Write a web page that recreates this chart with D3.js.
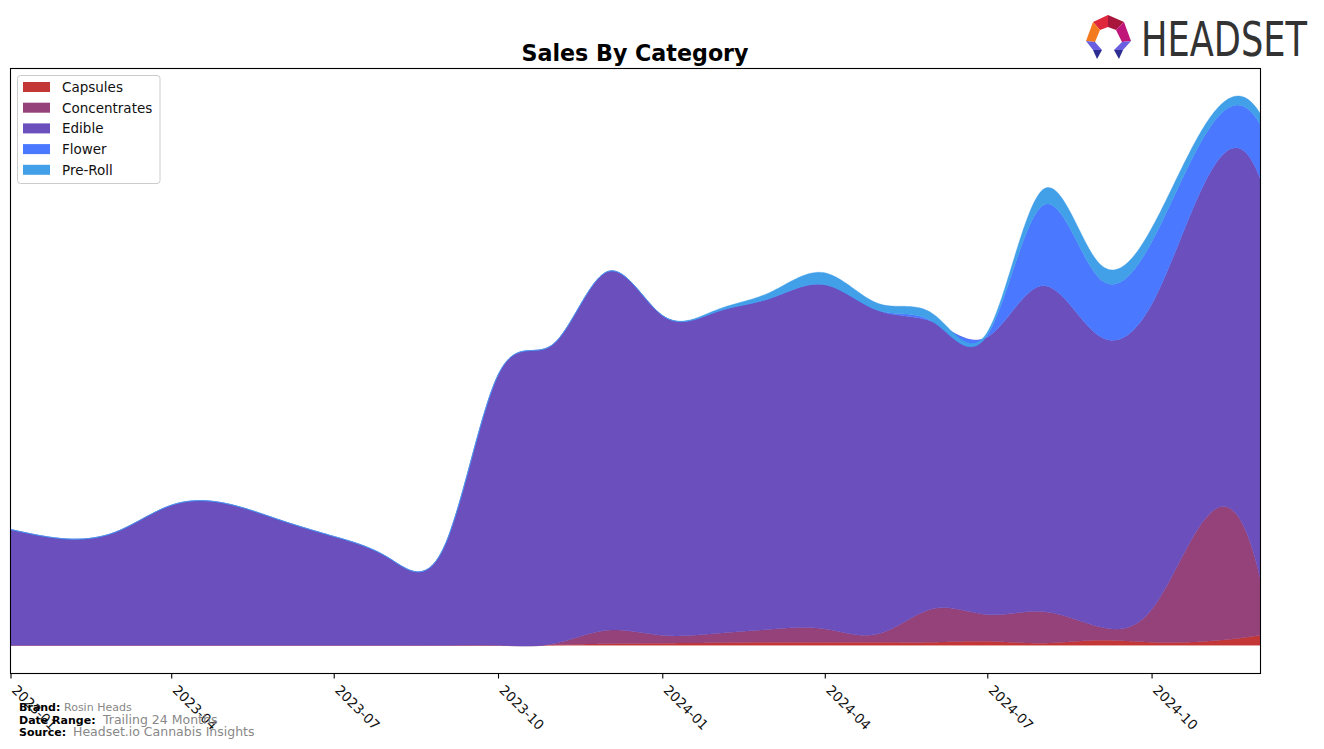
<!DOCTYPE html>
<html>
<head>
<meta charset="utf-8">
<script src="https://cdn.jsdelivr.net/npm/d3@7/dist/d3.min.js"></script>
<style>
  html, body { margin: 0; padding: 0; background: #fff; }
  svg { display: block; font-family: "DejaVu Sans", sans-serif; }
</style>
</head>
<body>
<svg id="chart" width="1324" height="749"></svg>
<script>
// ---------------- data ----------------
const months = ["2023-01","2023-02","2023-03","2023-04","2023-05","2023-06","2023-07","2023-08","2023-09","2023-10","2023-11","2023-12",
                "2024-01","2024-02","2024-03","2024-04","2024-05","2024-06","2024-07","2024-08","2024-09","2024-10","2024-11","2024-12"];
const categories = ["Capsules","Concentrates","Edible","Flower","Pre-Roll"];
const capsules     = [0,0,0,0,0,0,0,0,0,0,50,150, 200,250,300,300,300,300,400,200,500,300,400,1000];
const concentrates = [0,0,0,0,0,0,0,0,0,0,100,1350, 800,950,1300,1350,850,3400,2700,3200,1400,3300,12600,5600];
const edible       = [11700,10750,11450,14150,14350,12650,11000,8800,10000,27300,30300,36250,
                      32350,32550,33450,34800,32700,28950,28050,32950,29450,30850,34200,40500];
const flower       = [0,0,0,0,0,0,0,0,0,0,0,0, 0,0,0,0,0,0,200,8100,5900,6300,4700,5500];
const preroll      = [0,0,0,0,0,0,0,0,0,0,0,0, 0,200,600,1200,700,800,300,1600,1500,1400,1000,1100];
const tickLabels   = ["2023-01","2023-04","2023-07","2023-10","2024-01","2024-04","2024-07","2024-10"];
const colors = ["#c43737","#96427a","#6a4fbd","#4a78ff","#41a0e8"];

// ---------------- layout ----------------
const plot = {left: 10.5, right: 1260.5, top: 68.5, bottom: 673.5};
const svg = d3.select("#chart");

const parse = d3.timeParse("%Y-%m");
const dates = months.map(parse);
const xs = dates.map(d => d.getTime() / 86400000);

// not-a-knot cubic spline
function spline(x, y) {
  const n = x.length, h = [];
  for (let i = 0; i < n - 1; i++) h.push(x[i+1] - x[i]);
  const A = Array.from({length: n}, () => new Array(n).fill(0));
  const b = new Array(n).fill(0);
  A[0][0] = h[1]; A[0][1] = -(h[0] + h[1]); A[0][2] = h[0];
  for (let i = 1; i < n - 1; i++) {
    A[i][i-1] = h[i-1]; A[i][i] = 2 * (h[i-1] + h[i]); A[i][i+1] = h[i];
    b[i] = 6 * ((y[i+1] - y[i]) / h[i] - (y[i] - y[i-1]) / h[i-1]);
  }
  A[n-1][n-3] = h[n-2]; A[n-1][n-2] = -(h[n-3] + h[n-2]); A[n-1][n-1] = h[n-3];
  for (let c = 0; c < n; c++) {
    let p = c;
    for (let r = c + 1; r < n; r++) if (Math.abs(A[r][c]) > Math.abs(A[p][c])) p = r;
    [A[c], A[p]] = [A[p], A[c]]; [b[c], b[p]] = [b[p], b[c]];
    for (let r = c + 1; r < n; r++) {
      const f = A[r][c] / A[c][c];
      if (!f) continue;
      for (let k = c; k < n; k++) A[r][k] -= f * A[c][k];
      b[r] -= f * b[c];
    }
  }
  const M = new Array(n).fill(0);
  for (let r = n - 1; r >= 0; r--) {
    let s = b[r];
    for (let k = r + 1; k < n; k++) s -= A[r][k] * M[k];
    M[r] = s / A[r][r];
  }
  return function(t) {
    let i = d3.bisectRight(x, t) - 1;
    i = Math.max(0, Math.min(n - 2, i));
    const hh = h[i], dt = t - x[i];
    const bb = (y[i+1] - y[i]) / hh - hh * (2 * M[i] + M[i+1]) / 6;
    return y[i] + bb * dt + M[i] / 2 * dt * dt + (M[i+1] - M[i]) / (6 * hh) * dt * dt * dt;
  };
}

const series = [capsules, concentrates, edible, flower, preroll];
const cum = [];
let run = new Array(months.length).fill(0);
series.forEach(s => { run = run.map((v, i) => v + s[i]); cum.push(run.slice()); });
const fns = cum.map(c => spline(xs, c));

const samples = d3.range(xs[0], xs[xs.length - 1] + 0.001, 1);
const layers = fns.map(f => samples.map(t => f(t)));

let lo = 0, hi = 0;
layers.forEach(l => l.forEach(v => { lo = Math.min(lo, v); hi = Math.max(hi, v); }));
const span = hi - lo;

const x = d3.scaleTime().domain([dates[0], dates[dates.length - 1]]).range([plot.left, plot.right]);
const y = d3.scaleLinear().domain([lo - 0.05 * span, hi + 0.05 * span]).range([plot.bottom, plot.top]);

svg.append("defs").append("clipPath").attr("id", "clip")
  .append("rect").attr("x", plot.left).attr("y", plot.top)
  .attr("width", plot.right - plot.left).attr("height", plot.bottom - plot.top);

const g = svg.append("g").attr("clip-path", "url(#clip)");
layers.forEach((l, k) => {
  const below = k === 0 ? samples.map(() => 0) : layers[k - 1];
  const area = d3.area()
    .x((d, i) => x(new Date(samples[i] * 86400000)))
    .y0((d, i) => y(below[i]))
    .y1((d, i) => y(l[i]));
  g.append("path").datum(samples).attr("d", area)
    .attr("fill", colors[k]).attr("stroke", colors[k]).attr("stroke-width", 0.4);
});

// frame
svg.append("rect").attr("x", plot.left).attr("y", plot.top)
  .attr("width", plot.right - plot.left).attr("height", plot.bottom - plot.top)
  .attr("fill", "none").attr("stroke", "#000").attr("stroke-width", 1.1);

// x axis
const tickDates = tickLabels.map(parse);
const ax = svg.append("g").attr("transform", `translate(0,${plot.bottom})`)
  .call(d3.axisBottom(x).tickValues(tickDates).tickSize(5).tickFormat(""));
ax.select(".domain").remove();
ax.selectAll(".tick line").attr("stroke", "#000").attr("stroke-width", 1.1);
svg.append("g").selectAll("text").data(tickDates).join("text")
  .attr("transform", d => `translate(${x(d) + 0.5},${plot.bottom + 17.5}) rotate(45)`)
  .attr("font-size", "13.5px").attr("fill", "#111")
  .text((d, i) => tickLabels[i]);

// title
svg.append("text").attr("x", 635).attr("y", 61).attr("text-anchor", "middle")
  .attr("font-size", "22.2px").attr("font-weight", "bold").attr("fill", "#000")
  .text("Sales By Category");

// legend
const lg = svg.append("g");
lg.append("rect").attr("x", 17.5).attr("y", 75.5).attr("width", 142.5).attr("height", 108)
  .attr("rx", 3).attr("fill", "#fff").attr("fill-opacity", 0.8).attr("stroke", "#ccc");
categories.forEach((c, i) => {
  const yy = 87 + i * 20.7;
  lg.append("rect").attr("x", 23).attr("y", yy - 5).attr("width", 27).attr("height", 10).attr("fill", colors[i]);
  lg.append("text").attr("x", 62).attr("y", yy + 5).attr("font-size", "13.5px").attr("fill", "#111").text(c);
});

// footer
const foot = [
  {label: "Brand:", value: "Rosin Heads", y: 711, vs: 11, vx: 64},
  {label: "Date Range:", value: "Trailing 24 Months", y: 724, vs: 12.5, vx: 103},
  {label: "Source:", value: "Headset.io Cannabis Insights", y: 736, vs: 12.5, vx: 73}
];
foot.forEach(f => {
  svg.append("text").attr("x", 19).attr("y", f.y).attr("font-size", "11px").attr("font-weight", "bold")
    .attr("fill", "#000").text(f.label);
  svg.append("text").attr("x", f.vx).attr("y", f.y).attr("font-size", f.vs + "px")
    .attr("fill", "#888").text(f.value);
});

// logo
const logo = svg.append("g");
const facets = [
  {c: "#e0283c", p: [[1093,22],[1108,15],[1108,27],[1100,30]]},
  {c: "#a8163c", p: [[1108,15],[1124,22],[1116,30],[1108,27]]},
  {c: "#c0167a", p: [[1124,22],[1131,41],[1122,42],[1116,30]]},
  {c: "#f47a20", p: [[1093,22],[1086,41],[1095,42],[1100,30]]},
  {c: "#6a5fe0", p: [[1086,41],[1095,42],[1102,50],[1093,50]]},
  {c: "#2e2e90", p: [[1093,50],[1102,50],[1097,59]]},
  {c: "#6a5fe0", p: [[1131,41],[1122,42],[1114,50],[1123,50]]},
  {c: "#2e2e90", p: [[1114,50],[1123,50],[1119,59]]}
];
facets.forEach(f => logo.append("polygon").attr("points", f.p.map(q => q.join(",")).join(" ")).attr("fill", f.c));
logo.append("text").attr("x", 1141).attr("y", 56).attr("font-size", "48px")
  .attr("textLength", 166).attr("lengthAdjust", "spacingAndGlyphs")
  .attr("fill", "#333").text("HEADSET");
</script>
</body>
</html>
